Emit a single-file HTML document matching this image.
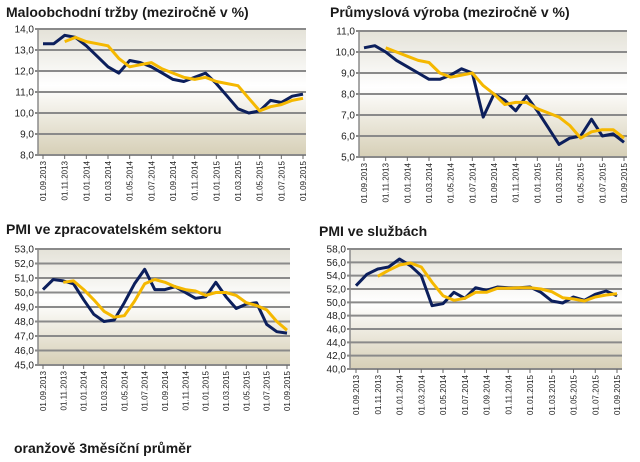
<!DOCTYPE html>
<html><head><meta charset="utf-8"><style>
body{margin:0;background:#fff;width:640px;height:462px;overflow:hidden;font-family:"Liberation Sans",sans-serif}
svg{position:absolute;left:0;top:0}
</style></head><body>
<svg id="s" width="640" height="462">
<defs><linearGradient id="bg" x1="0" y1="0" x2="0" y2="1">
<stop offset="0" stop-color="#e4e2d8"/><stop offset="0.45" stop-color="#ffffff"/><stop offset="1" stop-color="#d6cfb6"/></linearGradient></defs>
<text x="6" y="17" font-size="14" font-weight="bold" fill="#1a1a1a">Maloobchodní tržby (meziročně v %)</text>
<text x="330" y="17" font-size="14" font-weight="bold" fill="#1a1a1a">Průmyslová výroba (meziročně v %)</text>
<text x="6" y="234" font-size="14" font-weight="bold" fill="#1a1a1a">PMI ve zpracovatelském sektoru</text>
<text x="319" y="236" font-size="14" font-weight="bold" fill="#1a1a1a">PMI ve službách</text>
<text x="14" y="453" font-size="14" font-weight="bold" fill="#1a1a1a">oranžově 3měsíční průměr</text>
</svg>
<script>
const dateLabels=["01.09.2013","01.11.2013","01.01.2014","01.03.2014","01.05.2014","01.07.2014","01.09.2014","01.11.2014","01.01.2015","01.03.2015","01.05.2015","01.07.2015","01.09.2015"];
const retailBlue=[13.3,13.3,13.7,13.6,13.2,12.7,12.2,11.9,12.5,12.4,12.2,11.9,11.6,11.5,11.7,11.9,11.4,10.8,10.2,10.0,10.1,10.6,10.5,10.8,10.9];
const retailAvg=[null,null,13.4,13.6,13.4,13.3,13.2,12.6,12.2,12.3,12.4,12.1,11.9,11.7,11.6,11.7,11.5,11.4,11.3,10.7,10.1,10.3,10.4,10.6,10.7];
const industryBlue=[10.2,10.3,10.0,9.6,9.3,9.0,8.7,8.7,8.9,9.2,9.0,6.9,8.0,7.7,7.2,7.9,7.2,6.4,5.6,5.9,6.0,6.8,6.0,6.1,5.7];
const industryAvg=[null,null,10.2,10.0,9.8,9.6,9.5,9.0,8.8,8.9,9.0,8.4,8.0,7.5,7.6,7.6,7.3,7.1,6.9,6.5,5.9,6.2,6.3,6.3,5.9];
const pmiManBlue=[50.2,50.9,50.8,50.6,49.5,48.5,48.0,48.1,49.3,50.6,51.6,50.2,50.2,50.4,50.0,49.6,49.7,50.7,49.7,48.9,49.2,49.3,47.8,47.3,47.2];
const pmiManAvg=[null,null,50.7,50.8,50.2,49.5,48.7,48.3,48.4,49.4,50.6,50.9,50.7,50.4,50.2,50.1,49.8,50.0,50.0,49.8,49.3,49.1,48.8,48.0,47.4];
const pmiSvcBlue=[52.5,54.2,55.0,55.3,56.5,55.5,54.0,49.5,49.8,51.5,50.6,52.2,51.8,52.3,52.2,52.2,52.3,51.5,50.2,49.9,50.8,50.3,51.2,51.7,51.0];
const pmiSvcAvg=[null,null,53.9,54.8,55.6,55.9,55.3,53.0,51.0,50.3,50.6,51.5,51.5,52.1,52.1,52.2,52.2,52.0,51.6,50.7,50.5,50.2,50.8,51.1,51.3];
const retailTicks=[8,9,10,11,12,13,14];
const industryTicks=[5,6,7,8,9,10,11];
const pmiManTicks=[45,46,47,48,49,50,51,52,53];
const pmiSvcTicks=[40,42,44,46,48,50,52,54,56,58];

const NS="http://www.w3.org/2000/svg",svg=document.getElementById('s');
function mk(t,a,p){const e=document.createElementNS(NS,t);for(const k in a)e.setAttribute(k,a[k]);(p||svg).appendChild(e);return e;}
function chart(name,ax,right,top,bottom,x0,x1,ticks,blue,avg){
  const g=mk('g',{});
  
  
  const lo=ticks[0],hi=ticks[ticks.length-1];
  const y=v=>bottom-(v-lo)/(hi-lo)*(bottom-top);
  const x=i=>x0+i*(x1-x0)/(blue.length-1);
  const bg=mk('rect',{x:ax,y:top,width:right-ax,height:bottom-top,fill:'url(#bg)'},g);
  
  
  ticks.forEach(t=>{
    const l=mk('line',{x1:ax-3,x2:right,y1:y(t),y2:y(t),stroke:'#8a8a8a','stroke-width':2},g);
    
    
    const tx=mk('text',{x:ax-4,y:y(t)+3.5,'font-size':10,'text-anchor':'end',fill:'#222'},g);
    tx.textContent=t.toFixed(1).replace('.',',');
    
    
  });
  mk('line',{x1:ax,x2:ax,y1:top,y2:bottom,stroke:'#8a8a8a','stroke-width':1.5},g);
  dateLabels.forEach((d,k)=>{
    const xi=x(k*2);
    mk('line',{x1:xi,x2:xi,y1:bottom,y2:bottom+4,stroke:'#666','stroke-width':1},g);
    const tx=mk('text',{transform:`translate(${xi+3},${bottom+6}) rotate(-90)`,'font-size':8,'text-anchor':'end',fill:'#222'},g);
    tx.textContent=d;
    
    
  });
  const pb=blue.map((v,i)=>x(i).toFixed(1)+','+y(v).toFixed(1)).join(' ');
  const l1=mk('polyline',{points:pb,fill:'none',stroke:'#0c1f5c','stroke-width':3,'stroke-linejoin':'round'},g);
  
  
  const pa=avg.map((v,i)=>v==null?null:x(i).toFixed(1)+','+y(v).toFixed(1)).filter(s=>s).join(' ');
  const l2=mk('polyline',{points:pa,fill:'none',stroke:'#f5b800','stroke-width':3,'stroke-linejoin':'round'},g);
  
  
}
chart('retail-chart',38,306,29,155,43,303,retailTicks,retailBlue,retailAvg);
chart('industry-chart',359,627,31,157,364,624,industryTicks,industryBlue,industryAvg);
chart('pmi-manufacturing-chart',38,290,249,365,43,287,pmiManTicks,pmiManBlue,pmiManAvg);
chart('pmi-services-chart',350,622,249,369,356,617,pmiSvcTicks,pmiSvcBlue,pmiSvcAvg);
</script>
</body></html>
